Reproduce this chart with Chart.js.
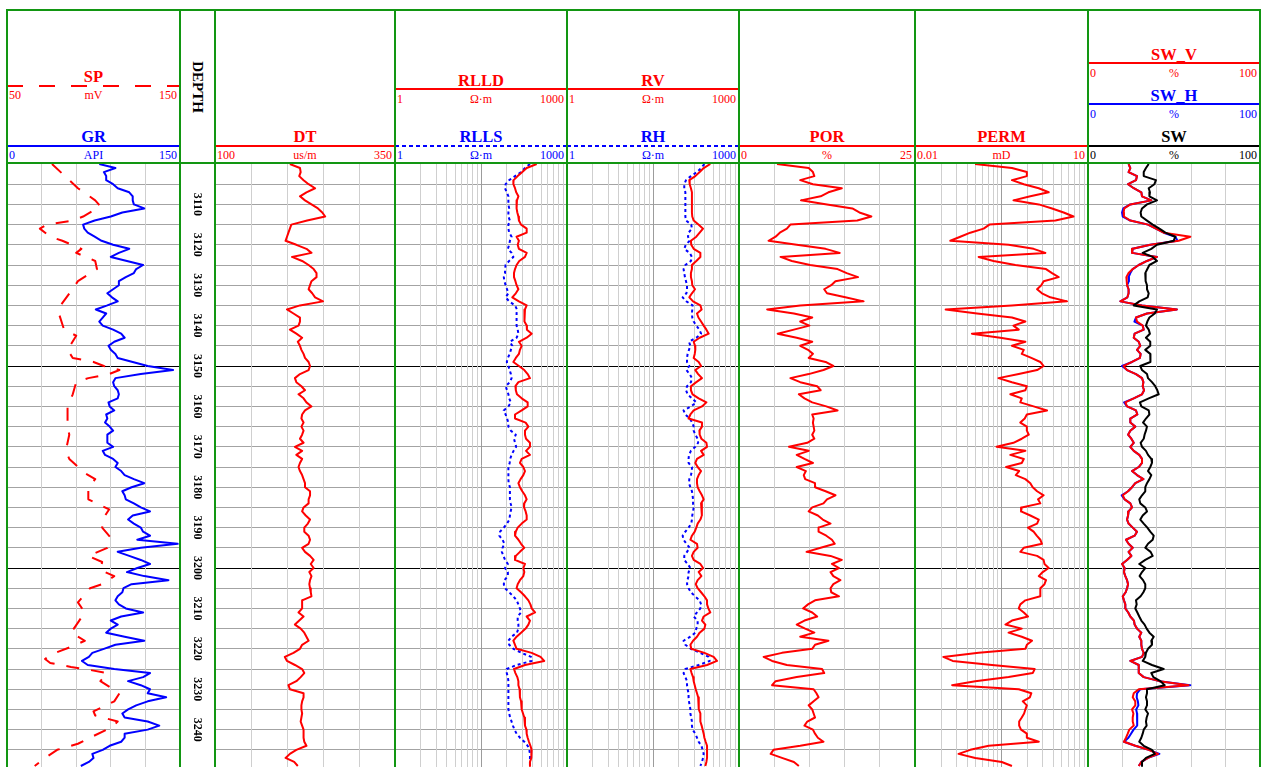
<!DOCTYPE html>
<html>
<head>
<meta charset="utf-8">
<title>Well log</title>
<script src="https://cdn.jsdelivr.net/npm/chart.js@4.4.1/dist/chart.umd.min.js"></script>
<style>
  html, body { margin: 0; padding: 0; background: #fff; }
  body { position: relative; width: 1261px; height: 767px; overflow: hidden;
         font-family: "Liberation Serif", "Times New Roman", serif; }
  canvas.trk { position: absolute; top: 164px; }
  .g { position: absolute; background: #129612; z-index: 5; }
  .hl { position: absolute; height: 2px; }
  .t { position: absolute; line-height: 1; white-space: nowrap; }
</style>
</head>
<body>
<script>
// ---- data -------------------------------------------------------------
const depthTop = 3100, depthBottom = 3249.25;
const depth = Array.from({ length: 150 }, (_, i) => depthTop + i);   // 1 m samples
const depthLabels = [3110, 3120, 3130, 3140, 3150, 3160, 3170, 3180, 3190, 3200, 3210, 3220, 3230, 3240];
const depthMarks = [3150, 3200];

const curveNames = ['SP', 'GR', 'DT', 'RLLD', 'RLLS', 'RV', 'RH', 'POR', 'PERM', 'SW_V', 'SW_H', 'SW'];
const curveUnits = ['mV', 'API', 'us/m', 'Ω·m', 'Ω·m', 'Ω·m', 'Ω·m', '%', 'mD', '%', '%', '%'];
const scaleLeft = [50, 0, 100, 1, 1, 1, 1, 0, 0.01, 0, 0, 0];
const scaleRight = [150, 150, 350, 1000, 1000, 1000, 1000, 25, 10, 100, 100, 100];

const spDepth = [3100,3104,3106,3109,3110.5,3113,3114,3115,3116,3118,3119,3121,3122,3124,3126,3129,3131.5,3135,3137,3141,
  3142.5,3146,3148,3149,3150,3151,3152,3153,3154,3157,3160,3165,3167,3171,3173,3176.5,3178,3180,3183,3185.5,
  3187.5,3190,3192.5,3195,3197,3198.5,3200.5,3202,3204,3205,3208.5,3211,3213.5,3216,3218,3219.5,3221.5,3222.5,3223.5,3224.5,
  3225,3226,3228,3231,3233,3235.5,3236.5,3238,3239.5,3242,3243.5,3245,3247,3249];
const sp = [76,86,91,101,104,94,88,73,69,75,82,93,90,101,102,91,87,81,80,83,
  90,85,88,100,106,115,109,97,90,88,85,85,86,84,86,95,101,97,97,109,
  106,105,110,108,97,105,104,112,105,98,91,95,91,87,95,87,75,72,75,87,
  95,108,104,115,112,100,101,114,110,98,91,79,72,66];

const gr = [
  80,94,84,86,86,92,96,106,109,109, 110,119,100,90,76,66,67,70,76,82,
  92,106,97,90,104,118,112,110,103,97, 97,92,87,91,96,87,77,86,83,80,
  83,92,99,102,93,88,90,94,96,109, 122,144,116,94,92,93,96,97,96,88,
  89,93,86,87,85,89,92,87,87,87, 92,83,85,92,96,94,99,102,110,119,
  108,100,102,103,110,116,124,109,105,110, 116,118,124,113,148,116,96,106,116,124,
  113,104,119,140,108,101,100,96,94,97, 103,118,99,90,96,90,86,102,119,94,
  84,74,71,65,70,93,124,118,105,116, 124,122,138,122,112,105,100,102,122,132,
  122,102,102,99,89,83,74,75,71,64];

const dt = [
  204,218,219,217,223,230,239,227,218,225, 234,243,249,253,228,206,204,202,200,198,
  213,227,234,207,221,230,237,241,241,234, 232,230,235,239,250,218,200,209,218,218,
  216,204,213,221,215,218,220,223,225,230, 232,230,218,211,213,220,225,216,223,227,
  234,225,221,220,223,220,223,221,218,223, 211,221,213,221,218,216,218,221,223,225,
  225,232,232,230,230,223,221,226,232,229, 224,224,230,232,230,221,225,232,237,233,
  237,231,234,232,231,232,233,234,221,221, 221,216,223,217,211,219,224,227,230,221,
  218,209,197,200,211,221,224,219,213,202, 204,223,223,221,220,220,221,220,219,221,
  223,223,223,224,227,213,204,198,210,215];

const rlld = [
  296,198,166,138,117,116,124,130,142,134, 132,132,136,142,145,158,198,198,132,145,
  138,145,198,185,147,132,124,119,119,126, 132,142,128,111,145,198,185,185,180,178,
  198,200,242,198,145,162,151,145,128,116, 145,180,206,226,142,126,128,134,162,206,
  206,162,124,124,190,212,185,185,193,226, 226,193,226,162,151,173,185,173,155,142,
  151,166,185,198,180,178,190,198,198,162, 138,128,124,142,158,180,151,128,124,185,
  173,180,173,151,138,132,158,185,212,230, 242,277,198,226,212,190,158,132,116,124,
  132,242,346,400,185,119,126,136,142,142, 149,151,151,158,162,162,171,180,185,185,
  196,198,206,217,230,242,242,236,226,226];

const rlls = [
  226,185,158,124,98,85,83,89,95,95, 95,98,95,95,101,95,95,98,108,101,
  98,93,108,116,98,85,83,83,79,81, 85,90,95,85,98,124,134,132,132,132,
  132,138,142,132,101,111,105,100,93,89, 95,100,105,108,101,85,90,95,98,105,
  95,79,85,90,95,95,105,128,119,124, 130,117,108,102,100,95,95,95,95,96,
  101,101,101,101,104,108,104,101,99,90, 79,68,66,75,81,75,73,78,83,93,
  83,93,93,81,79,83,98,116,132,142, 151,158,138,138,142,142,134,108,95,98,
  116,162,236,242,132,89,89,93,95,95, 95,95,95,95,95,95,98,102,108,114,
  121,132,151,180,206,220,226,226,226,226];

const rv = [
  316,242,206,173,136,138,145,151,151,151, 151,151,151,153,162,196,236,206,180,145,
  147,162,212,212,180,151,151,145,145,151, 153,171,151,136,158,212,223,185,196,218,
  242,270,296,206,162,171,173,169,162,198, 218,173,194,226,180,145,145,155,198,270,
  226,162,142,132,226,226,204,206,221,270, 277,218,242,185,173,190,218,198,185,185,
  190,206,226,242,218,223,226,226,212,190, 180,169,151,142,185,190,162,151,162,212,
  236,198,221,190,176,190,218,249,277,277, 292,316,242,226,259,249,206,185,158,142,
  147,249,361,413,277,142,149,158,162,169, 176,185,194,198,198,200,212,212,212,223,
  232,242,249,262,277,277,277,277,270,259];

const rh = [
  249,218,185,145,119,111,111,116,116,116, 116,116,116,116,119,147,151,132,129,138,
  118,111,138,151,145,116,108,111,114,119, 124,124,121,104,121,155,153,151,153,162,
  180,204,218,180,134,142,134,127,124,124, 136,121,138,151,145,124,119,127,151,180,
  145,108,116,138,153,162,162,173,190,194, 173,145,134,132,132,151,151,145,136,134,
  142,151,155,158,158,162,158,153,151,147, 132,116,104,108,121,138,124,111,111,127,
  142,132,132,126,124,132,145,171,206,218, 212,185,162,190,190,180,173,142,108,116,
  145,212,296,308,198,116,108,116,124,124, 127,132,132,134,138,142,142,147,151,151,
  155,173,185,198,221,232,242,236,226,212];

const por = [
  5.4,9.9,10.5,10.7,8.7,10.5,14.6,12.7,11.6,8.8, 12.5,16.1,17.1,18.8,16.8,7.3,6.8,5.8,5.2,4.2,
  8.2,12.3,14.3,5.9,7.5,10.1,14.0,15.3,16.9,13.7, 13.1,12.1,12.5,15.1,17.7,8.7,4.0,7.8,10.4,8.7,
  10.0,7.8,5.5,8.2,10.4,8.7,9.8,10.5,9.9,12.3, 13.4,12.0,9.9,7.3,8.7,11.1,11.6,8.5,9.3,10.4,
  12.4,14.0,10.4,10.6,10.5,10.6,10.7,10.4,10.7,9.7, 7.1,9.9,8.2,9.3,10.5,8.2,9.5,9.2,9.4,10.8,
  10.8,12.3,13.7,12.5,12.0,10.4,9.9,11.2,11.9,13.0, 11.3,11.3,12.4,13.2,13.6,11.6,9.6,13.0,14.6,13.2,
  14.2,13.0,13.4,14.4,13.4,13.0,13.1,14.2,10.8,9.8, 9.1,10.4,11.1,9.3,8.2,9.4,10.7,8.7,12.7,10.8,
  10.4,6.1,3.5,4.7,6.8,11.8,12.1,8.2,5.2,4.7, 10.6,11.0,11.3,10.6,9.9,10.4,10.6,10.8,9.7,9.3,
  10.5,10.8,11.2,12.0,8.7,4.9,4.5,6.1,7.8,8.5];

const perm = [
  0.11,0.48,0.87,0.87,0.48,0.77,1.40,2.08,1.0,0.51, 1.40,2.38,3.78,5.6,2.72,0.195,0.155,0.091,0.061,0.041,
  0.42,1.14,1.82,0.127,0.23,0.55,1.87,2.38,3.10,1.70, 1.55,1.31,1.59,2.22,4.33,0.48,0.034,0.119,0.48,0.82,
  0.51,0.63,0.097,0.30,0.82,0.48,0.77,0.71,1.04,1.49, 1.70,1.31,0.63,0.28,0.48,0.87,0.82,0.45,0.71,0.67,
  1.14,1.95,0.87,0.80,0.67,0.87,0.87,0.94,0.71,0.51, 0.26,0.82,0.45,0.77,0.71,0.38,0.64,0.56,0.82,1.0,
  1.10,1.31,1.70,1.36,1.49,0.71,0.69,1.0,1.40,1.31, 0.91,1.14,1.29,1.49,1.59,0.77,0.67,1.31,1.70,1.76,
  2.08,1.64,1.40,1.87,1.76,1.49,1.49,1.49,0.82,0.67, 0.63,0.77,0.91,0.48,0.37,0.71,0.42,0.71,1.07,0.87,
  0.82,0.127,0.031,0.045,0.216,1.19,1.10,0.42,0.111,0.044, 0.63,1.04,0.98,0.74,0.87,0.82,0.78,0.71,0.64,0.64,
  0.69,0.87,0.87,1.40,0.19,0.091,0.057,0.111,0.32,0.48];

const sw = [
  35.3,33.7,32.4,32.4,39.5,38.6,35.3,36.0,35.7,40.1, 34.3,31.4,30.6,31.0,34.3,37.6,41.5,45.0,50.8,49.8,
  40.1,36.8,31.8,37.6,40.1,35.7,34.5,33.3,33.3,33.7, 34.3,34.3,35.3,34.7,29.8,26.6,40.1,38.8,35.7,34.5,
  33.7,35.3,36.0,33.7,36.2,36.2,33.3,36.2,36.4,36.2, 30.4,31.4,34.3,34.9,37.2,39.1,40.3,41.1,35.3,30.2,
  31.0,35.3,35.7,33.7,32.0,34.3,33.7,32.9,32.4,30.6, 31.4,33.7,34.9,36.8,37.2,36.2,34.9,36.8,35.7,34.3,
  33.3,33.3,31.4,29.8,30.4,33.3,34.3,31.8,30.4,32.4, 34.5,36.2,38.2,37.6,34.9,33.3,36.4,37.6,33.3,29.8,
  33.3,31.4,30.0,32.0,33.3,33.3,32.2,30.6,27.9,28.3, 27.5,28.7,29.8,31.0,32.9,34.1,35.7,38.2,36.8,37.2,
  34.9,33.7,33.3,31.8,37.2,44.0,36.8,38.0,42.1,44.6, 34.3,34.3,33.7,34.3,34.3,33.3,34.9,34.1,33.7,34.1,
  32.4,31.8,31.0,29.8,32.4,37.2,38.8,33.7,31.4,31.4];

const swV = [
  23.6,24.6,23.6,28.5,27.9,23.3,26.6,31.0,31.4,36.8, 24.6,21.1,20.7,20.9,24.6,34.9,39.5,44.0,59.5,52.7,
  36.2,26.0,25.6,40.1,34.3,29.5,26.0,23.6,22.3,22.5, 22.7,23.6,23.6,22.9,18.8,31.4,51.7,34.3,27.9,28.5,
  31.8,32.4,27.1,26.6,29.5,30.4,28.5,30.6,30.2,25.6, 20.7,22.7,27.9,31.4,32.2,31.8,32.6,31.4,26.6,21.7,
  22.7,27.9,28.7,24.6,24.6,27.5,24.6,23.3,25.2,26.6, 24.6,26.6,29.8,31.4,31.4,29.5,25.6,28.5,32.2,27.5,
  25.6,23.3,20.2,21.3,24.6,25.6,23.6,23.3,22.7,23.6, 26.0,28.5,27.1,22.1,23.6,26.0,23.6,25.2,22.7,19.8,
  21.3,20.9,21.7,22.7,23.3,22.7,21.9,20.2,20.9,21.7, 21.7,23.4,24.6,26.7,27.1,28.5,31.0,29.8,31.0,31.0,
  31.4,32.4,31.4,24.6,29.5,29.5,29.5,32.4,41.5,58.5, 29.5,26.6,26.0,27.5,27.5,25.6,26.4,26.0,26.0,26.6,
  24.0,23.1,22.1,20.9,27.5,35.3,40.7,34.9,31.0,29.5];

const swH = [
  23.6,24.6,23.6,28.5,27.9,23.3,26.6,31.0,31.4,36.8, 24.6,20.5,19.8,20.2,24.6,34.9,39.5,44.0,50.8,52.0,
  36.2,26.0,25.6,40.1,34.3,29.5,26.0,24.6,23.6,23.8, 22.7,23.6,23.6,22.9,18.8,31.4,51.7,34.3,27.9,27.0,
  31.8,32.4,27.1,26.6,29.5,30.4,28.5,30.6,30.2,25.6, 19.8,22.7,27.9,31.4,32.2,31.8,32.6,31.4,26.6,21.0,
  22.7,27.9,28.7,24.6,24.6,27.5,24.6,23.3,25.2,26.6, 24.6,26.6,29.8,31.4,31.4,29.5,25.6,28.5,32.2,27.5,
  25.6,23.3,19.6,21.3,24.6,25.6,23.6,23.3,22.7,23.6, 26.0,28.5,27.1,22.1,23.6,26.0,23.6,25.2,22.7,19.8,
  21.3,20.9,21.7,22.7,23.3,22.7,21.9,20.2,20.9,21.7, 21.7,23.4,24.6,26.7,27.1,28.5,31.0,29.8,31.0,31.0,
  31.4,32.4,31.4,24.6,29.5,29.5,29.5,32.4,41.5,59.5, 30.4,28.5,28.3,29.0,29.3,28.0,28.5,28.5,28.8,28.5,
  26.5,25.0,23.5,20.9,27.5,35.3,41.5,34.9,31.0,29.5];

// ---- layout -----------------------------------------------------------
const RED = '#ff0000', BLUE = '#0000ff', BLACK = '#000000';
const GRID_V = '#cfcfcf', GRID_H = '#a3a3a3', GRID_DEC = '#9c9c9c';
const trackX = [7, 180, 215, 395, 567, 739, 915, 1088, 1260];
const PLOT_H = 603;

// header: track, colour, line style, [title baseline, line y, label baseline]
const headerStyle = [
  [0, RED, 'dash', [83, 86, 99]],
  [0, BLUE, 'solid', [143, 146, 159]],
  [2, RED, 'solid', [143, 146, 159]],
  [3, RED, 'solid', [87, 89, 103]],
  [3, BLUE, 'dot', [143, 146, 159]],
  [4, RED, 'solid', [87, 89, 103]],
  [4, BLUE, 'dot', [143, 146, 159]],
  [5, RED, 'solid', [143, 146, 159]],
  [6, RED, 'solid', [143, 146, 159]],
  [7, RED, 'solid', [61, 63, 77]],
  [7, BLUE, 'solid', [102, 104, 118]],
  [7, BLACK, 'solid', [143, 146, 159]]
];

function box(cls, css) {
  const el = document.createElement('div');
  el.className = cls;
  Object.assign(el.style, css);
  document.body.appendChild(el);
  return el;
}

function text(str, size, bold, baseline, css) {
  const el = box('t', Object.assign({
    top: (baseline - size * 0.8375) + 'px',
    fontSize: size + 'px',
    fontWeight: bold ? 'bold' : 'normal'
  }, css));
  el.textContent = str;
  return el;
}

function drawHeader() {
  headerStyle.forEach(([trk, color, style, rows], i) => {
    const left = trackX[trk], w = trackX[trk + 1] - trackX[trk];
    let bg = color;
    if (style === 'dash') bg = `repeating-linear-gradient(to right, ${color} 0 16px, transparent 16px 32px)`;
    if (style === 'dot') bg = `repeating-linear-gradient(to right, ${color} 0 4px, transparent 4px 7px)`;
    box('hl', { left: left + 'px', width: w + 'px', top: (rows[1] - 1) + 'px', background: bg });
    text(curveNames[i], 16.5, true, rows[0], { left: left + 'px', width: w + 'px', textAlign: 'center', color });
    text(String(scaleLeft[i]), 12, false, rows[2], { left: (left + 2) + 'px', color });
    text(String(scaleRight[i]), 12, false, rows[2], { left: left + 'px', width: (w - 3) + 'px', textAlign: 'right', color });
    text(curveUnits[i], 12, false, rows[2], { left: left + 'px', width: w + 'px', textAlign: 'center', color });
  });
  const dp = text('DEPTH', 15, true, 0, { left: '197px', color: BLACK,
    transform: 'translate(-50%, -50%) rotate(90deg)' });
  dp.style.top = '87px';

  // green frame
  box('g', { left: '6px', width: '1255px', top: '9px', height: '2px' });
  box('g', { left: '6px', width: '1255px', top: '162px', height: '2px' });
  trackX.forEach(x => box('g', { left: (x - 1) + 'px', width: '2px', top: '9px', height: '760px' }));
}

// ---- charts -----------------------------------------------------------
const isDecade = v => Math.abs(Math.log10(v) - Math.round(Math.log10(v))) < 1e-6;

function depthAxis(show) {
  return {
    type: 'linear', reverse: true, min: depthTop, max: depthBottom, display: show,
    ticks: { display: false, stepSize: 5 },
    afterBuildTicks: s => { s.ticks = s.ticks.filter(t => t.value > depthTop && t.value % 5 === 0); },
    grid: { drawTicks: false, lineWidth: 1,
      color: c => depthMarks.includes(c.tick.value) ? BLACK : GRID_H },
    border: { display: false }
  };
}

function linearGrid(min, max, step) {
  return {
    type: 'linear', min, max, display: true,
    ticks: { display: false, stepSize: step },
    grid: { drawTicks: false, lineWidth: 1, color: GRID_V },
    border: { display: false }
  };
}

function logGrid(min, max) {
  return {
    type: 'logarithmic', min, max, display: true,
    ticks: { display: false },
    afterBuildTicks: s => {
      s.ticks = s.ticks.filter(t => {
        const m = t.value / Math.pow(10, Math.floor(Math.log10(t.value) + 1e-9));
        return Math.abs(m - Math.round(m)) < 1e-6;
      });
    },
    grid: { drawTicks: false, lineWidth: 1, color: c => isDecade(c.tick.value) ? GRID_DEC : GRID_V },
    border: { display: false }
  };
}

const hidden = (type, min, max) => ({ type, min, max, display: false });

function curve(values, depths, color, axis, dash) {
  return {
    data: values.map((v, i) => ({ x: v, y: depths[i] })),
    xAxisID: axis, yAxisID: 'y',
    borderColor: color, backgroundColor: color, borderWidth: 2,
    borderDash: dash || [], borderJoinStyle: 'round',
    pointRadius: 0, showLine: true, fill: false, tension: 0
  };
}

const depthLabelPlugin = {
  id: 'depthLabels',
  afterDraw(chart) {
    const { ctx, scales: { y } } = chart;
    ctx.save();
    ctx.font = 'bold 12px "Liberation Serif", "Times New Roman", serif';
    ctx.fillStyle = BLACK;
    ctx.textAlign = 'center';
    ctx.textBaseline = 'middle';
    depthLabels.forEach(d => {
      ctx.save();
      ctx.translate(chart.width / 2 - 0.5, y.getPixelForValue(d));
      ctx.rotate(Math.PI / 2);
      ctx.fillText(String(d), 0, 0);
      ctx.restore();
    });
    ctx.restore();
  }
};

function makeTrack(trk, scales, datasets, plugins) {
  const cv = document.createElement('canvas');
  cv.className = 'trk';
  cv.width = trackX[trk + 1] - trackX[trk];
  cv.height = PLOT_H;
  cv.style.left = trackX[trk] + 'px';
  document.body.appendChild(cv);
  return new Chart(cv, {
    type: 'scatter',
    data: { datasets },
    options: {
      responsive: false, animation: false, events: [],
      layout: { padding: 0 },
      plugins: { legend: { display: false }, tooltip: { enabled: false } },
      scales: Object.assign({ y: depthAxis(datasets.length > 0) }, scales)
    },
    plugins: plugins || []
  });
}

makeTrack(0, { x: linearGrid(0, 150, 30), xsp: hidden('linear', 50, 150) }, [
  curve(gr, depth, BLUE, 'x'),
  curve(sp, spDepth, RED, 'xsp', [13, 12])
]);
makeTrack(1, { x: hidden('linear', 0, 1) }, [], [depthLabelPlugin]);
makeTrack(2, { x: linearGrid(100, 350, 50) }, [curve(dt, depth, RED, 'x')]);
makeTrack(3, { xg: logGrid(1, 100), x: hidden('logarithmic', 1, 1000) }, [
  curve(rlld, depth, RED, 'x'),
  curve(rlls, depth, BLUE, 'x', [3, 3])
]);
makeTrack(4, { xg: logGrid(1, 100), x: hidden('logarithmic', 1, 1000) }, [
  curve(rv, depth, RED, 'x'),
  curve(rh, depth, BLUE, 'x', [3, 3])
]);
makeTrack(5, { x: linearGrid(0, 25, 5) }, [curve(por, depth, RED, 'x')]);
makeTrack(6, { xg: logGrid(0.01, 1), x: hidden('logarithmic', 0.01, 10) }, [curve(perm, depth, RED, 'x')]);
makeTrack(7, { x: linearGrid(0, 100, 20) }, [
  curve(sw, depth, BLACK, 'x'),
  curve(swV, depth, RED, 'x'),
  curve(swH, depth, BLUE, 'x')
]);

drawHeader();
</script>
</body>
</html>
